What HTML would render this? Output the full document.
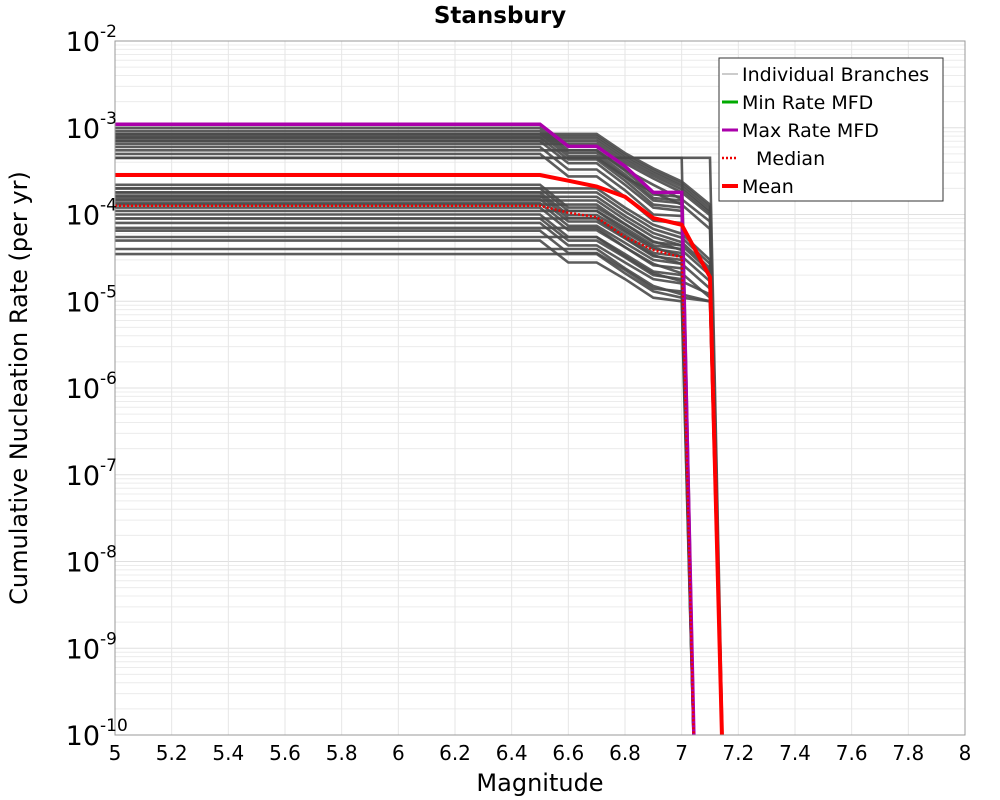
<!DOCTYPE html>
<html><head><meta charset="utf-8"><style>
body{margin:0;background:#fff;}
svg{display:block;font-family:"Liberation Sans","DejaVu Sans",sans-serif;}
</style></head><body>
<svg id="chart" width="1000" height="800" viewBox="0 0 1000 800">
<text x="500" y="23" text-anchor="middle" font-size="23" font-weight="bold" font-family="DejaVu Sans, sans-serif">Stansbury</text>
<g id="grid"></g><g id="branches"></g><g id="summary"></g><g id="axes"></g>
<text x="540" y="791" text-anchor="middle" font-size="24" font-family="DejaVu Sans, sans-serif">Magnitude</text>
<text transform="translate(27,388) rotate(-90)" text-anchor="middle" font-size="24" font-family="DejaVu Sans, sans-serif">Cumulative Nucleation Rate (per yr)</text>
<g id="legend"></g>
</svg>
<script>
const xTicks=[5,5.2,5.4,5.6,5.8,6,6.2,6.4,6.6,6.8,7,7.2,7.4,7.6,7.8,8];
const xTickLabels=["5","5.2","5.4","5.6","5.8","6","6.2","6.4","6.6","6.8","7","7.2","7.4","7.6","7.8","8"];
const yExps=[-2,-3,-4,-5,-6,-7,-8,-9,-10];
const magsB=[5,6.5,6.6,6.7,6.8,6.9,7.0,7.05];
const magsA=[5,6.5,6.6,6.7,6.8,6.9,7.0,7.1,7.15];
const branchesB=[
[1.0e-3,1.0e-3,5.5e-4,5.5e-4,3.2e-4,1.7e-4,1.6e-4,1e-11],
[9.2e-4,9.2e-4,5.1e-4,5.1e-4,2.9e-4,1.55e-4,1.45e-4,1e-11],
[8.5e-4,8.5e-4,4.7e-4,4.7e-4,2.7e-4,1.45e-4,1.35e-4,1e-11],
[7.7e-4,7.7e-4,4.3e-4,4.3e-4,2.45e-4,1.3e-4,1.2e-4,1e-11],
[7e-4,7e-4,3.9e-4,3.9e-4,2.2e-4,1.2e-4,1.1e-4,1e-11],
[6e-4,6e-4,3.3e-4,3.3e-4,1.9e-4,1.0e-4,9.6e-5,1e-11],
[5e-4,5e-4,2.75e-4,2.75e-4,1.6e-4,8.5e-5,8e-5,1e-11],
[4.5e-4,4.5e-4,4.5e-4,4.5e-4,4.5e-4,4.5e-4,4.5e-4,1e-11],
[2.2e-4,2.2e-4,1.2e-4,1.2e-4,7.7e-5,4.8e-5,4.4e-5,1e-11],
[2.0e-4,2.0e-4,1.1e-4,1.1e-4,7.0e-5,4.4e-5,4.0e-5,1e-11],
[1.8e-4,1.8e-4,9.9e-5,9.9e-5,6.3e-5,4.0e-5,3.6e-5,1e-11],
[1.65e-4,1.65e-4,9.1e-5,9.1e-5,5.8e-5,3.6e-5,3.3e-5,1e-11],
[1.5e-4,1.5e-4,8.3e-5,8.3e-5,5.3e-5,3.3e-5,3.0e-5,1e-11],
[1.35e-4,1.35e-4,7.4e-5,7.4e-5,4.7e-5,3.0e-5,2.7e-5,1e-11],
[1.2e-4,1.2e-4,6.6e-5,6.6e-5,4.2e-5,2.6e-5,2.4e-5,1e-11],
[1.0e-4,1.0e-4,5.5e-5,5.5e-5,3.5e-5,2.2e-5,2.0e-5,1e-11],
[9e-5,9e-5,5.0e-5,5.0e-5,3.2e-5,2.0e-5,1.8e-5,1e-11],
[8e-5,8e-5,4.4e-5,4.4e-5,2.8e-5,1.8e-5,1.6e-5,1e-11],
[6.5e-5,6.5e-5,3.6e-5,3.6e-5,2.3e-5,1.4e-5,1.3e-5,1e-11],
[5e-5,5e-5,2.8e-5,2.8e-5,1.8e-5,1.1e-5,1.0e-5,1e-11]
];
const branchesA=[
[8.5e-4,8.5e-4,8.5e-4,8.5e-4,5.1e-4,3.4e-4,2.4e-4,1.3e-4,1e-11],
[8.0e-4,8.0e-4,8.0e-4,8.0e-4,4.8e-4,3.2e-4,2.25e-4,1.2e-4,1e-11],
[7.5e-4,7.5e-4,7.5e-4,7.5e-4,4.5e-4,3.0e-4,2.1e-4,1.1e-4,1e-11],
[7.0e-4,7.0e-4,7.0e-4,7.0e-4,4.2e-4,2.8e-4,1.95e-4,1.05e-4,1e-11],
[6.5e-4,6.5e-4,6.5e-4,6.5e-4,3.9e-4,2.6e-4,1.8e-4,9.8e-5,1e-11],
[5.5e-4,5.5e-4,5.5e-4,5.5e-4,3.3e-4,2.2e-4,1.5e-4,8.3e-5,1e-11],
[4.5e-4,4.5e-4,4.5e-4,4.5e-4,2.7e-4,1.8e-4,1.3e-4,6.8e-5,1e-11],
[4.5e-4,4.5e-4,4.5e-4,4.5e-4,4.5e-4,4.5e-4,4.5e-4,4.5e-4,1e-11],
[2.0e-4,2.0e-4,2.0e-4,2.0e-4,1.2e-4,7.6e-5,6e-5,3e-5,1e-11],
[1.8e-4,1.8e-4,1.8e-4,1.8e-4,1.08e-4,6.8e-5,5.4e-5,2.7e-5,1e-11],
[1.6e-4,1.6e-4,1.6e-4,1.6e-4,9.6e-5,6.1e-5,4.8e-5,2.4e-5,1e-11],
[1.45e-4,1.45e-4,1.45e-4,1.45e-4,8.7e-5,5.5e-5,4.4e-5,2.2e-5,1e-11],
[1.3e-4,1.3e-4,1.3e-4,1.3e-4,7.8e-5,4.9e-5,3.9e-5,2.0e-5,1e-11],
[1.1e-4,1.1e-4,1.1e-4,1.1e-4,6.6e-5,4.2e-5,3.3e-5,1.7e-5,1e-11],
[9e-5,9e-5,9e-5,9e-5,5.4e-5,3.4e-5,2.7e-5,1.4e-5,1e-11],
[7e-5,7e-5,7e-5,7e-5,4.2e-5,2.7e-5,2.1e-5,1.1e-5,1e-11],
[5.5e-5,5.5e-5,5.5e-5,5.5e-5,3.3e-5,2.1e-5,1.7e-5,1.2e-5,1e-11],
[4e-5,4e-5,4e-5,4e-5,2.4e-5,1.5e-5,1.2e-5,1.0e-5,1e-11],
[3.5e-5,3.5e-5,3.5e-5,3.5e-5,2.1e-5,1.3e-5,1.1e-5,1.0e-5,1e-11]
];
const maxMags=[5,6.5,6.6,6.7,6.8,6.9,7.0,7.05];
const maxRates=[1.1e-3,1.1e-3,6.1e-4,6.1e-4,3.6e-4,1.8e-4,1.8e-4,1e-11];
const meanMags=[5,6.5,6.6,6.7,6.8,6.9,7.0,7.1,7.15];
const meanRates=[2.85e-4,2.85e-4,2.45e-4,2.1e-4,1.6e-4,9.1e-5,7.6e-5,1.9e-5,1e-11];
const medianMags=[5,6.5,6.6,6.7,6.8,6.9,7.0,7.05];
const medianRates=[1.26e-4,1.26e-4,1.05e-4,9.3e-5,5.5e-5,3.9e-5,3.2e-5,1e-11];

const L=115,R=965,T=41,B=735;
const xS=m=>L+(m-5)/3*(R-L);
const yS=v=>T+(-2-Math.log10(v))/8*(B-T);
const NS="http://www.w3.org/2000/svg";
function mk(tag,attrs,parent){const e=document.createElementNS(NS,tag);for(const k in attrs)e.setAttribute(k,attrs[k]);parent.appendChild(e);return e;}
const grid=document.getElementById('grid');
for(let d=-10;d<-2;d++){for(let k=1;k<10;k++){const y=yS(k*Math.pow(10,d));
 const ln=mk('line',{x1:L,x2:R,y1:y,y2:y,stroke:k==1?'#e0e0e0':'#ececec','stroke-width':1},grid);
 
 }}
xTicks.forEach(t=>{const x=xS(t);const ln=mk('line',{x1:x,x2:x,y1:T,y2:B,stroke:'#e6e6e6','stroke-width':1},grid);
 
 });
const clip=mk('clipPath',{id:'pc'},document.getElementById('chart'));
mk('rect',{x:L,y:T,width:R-L,height:B-T},clip);
function path(mags,rates,parent,attrs){const d=mags.map((m,i)=>(i?'L':'M')+xS(m).toFixed(1)+','+yS(rates[i]).toFixed(1)).join('');
 attrs.d=d;attrs.fill='none';attrs['clip-path']='url(#pc)';return mk('path',attrs,parent);}
const bg=document.getElementById('branches');
branchesB.forEach(r=>{const p=path(magsB,r,bg,{stroke:'#4a4a4a','stroke-width':2.6,'stroke-opacity':0.9});
 
 });
branchesA.forEach(r=>{const p=path(magsA,r,bg,{stroke:'#4a4a4a','stroke-width':2.6,'stroke-opacity':0.9});
 
 });
const sg=document.getElementById('summary');
let p=path(maxMags,maxRates,sg,{stroke:'#aa00aa','stroke-width':3.5});


p=path(meanMags,meanRates,sg,{stroke:'#ff0000','stroke-width':4});


p=path(medianMags,medianRates,sg,{stroke:'#ee0000','stroke-width':2.5,'stroke-dasharray':'2,2'});


const ax=document.getElementById('axes');
const fr=mk('rect',{x:L,y:T,width:R-L,height:B-T,fill:'none',stroke:'#999','stroke-width':1},ax);


xTicks.forEach((t,i)=>{const tx=mk('text',{x:xS(t),y:760,'text-anchor':'middle','font-size':20,'font-family':'DejaVu Sans, sans-serif'},ax);tx.textContent=xTickLabels[i];
 
 });
yExps.forEach(e=>{const y=yS(Math.pow(10,e));const tx=mk('text',{x:100,y:y+10,'text-anchor':'end','font-size':27,'font-family':'DejaVu Sans, sans-serif'},ax);tx.textContent='10';
 
 
 const sp=mk('text',{x:100,y:y-4,'font-size':17,'font-family':'DejaVu Sans, sans-serif'},ax);sp.textContent=String(e);
 
 });
const lg=document.getElementById('legend');
mk('rect',{x:719,y:58,width:224,height:143,fill:'#fff',stroke:'#333','stroke-width':1},lg);
const items=[["Individual Branches",'#999',1,null],["Min Rate MFD",'#00aa00',3,null],["Max Rate MFD",'#aa00aa',3,null],["Median",'#ee0000',2.5,'2,2'],["Mean",'#ff0000',4,null]];
items.forEach((it,i)=>{const y=74+i*28;const g=mk('g',{},lg);
 
 
 const a={x1:722,x2:738,y1:y,y2:y,stroke:it[1],'stroke-width':it[2]};if(it[3])a['stroke-dasharray']=it[3];mk('line',a,g);
 const t=mk('text',{x:i==3?756:742,y:y+7,'font-size':19,'font-family':'DejaVu Sans, sans-serif'},g);t.textContent=it[0];});
</script>
</body></html>
